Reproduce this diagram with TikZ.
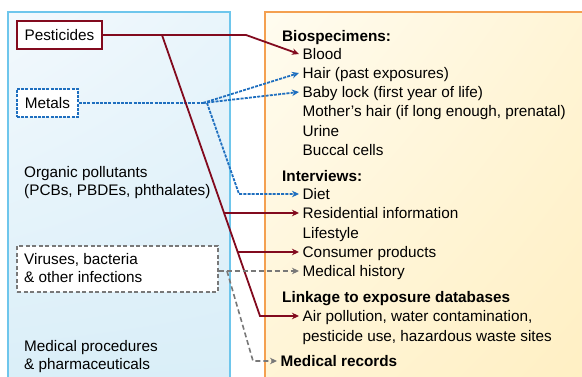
\documentclass[tikz,border=0pt]{standalone}
\usepackage{fontspec}
\setmainfont{Liberation Sans}
\usetikzlibrary{arrows.meta,calc,shadings}
\definecolor{dred}{HTML}{820A1E}
\definecolor{mblue}{HTML}{1F6FBF}
\definecolor{mgray}{HTML}{787878}
\definecolor{lbborder}{HTML}{6EC6EC}
\definecolor{lbfillA}{HTML}{F3F9FD}
\definecolor{lbfillB}{HTML}{D9EEF8}
\definecolor{orborder}{HTML}{F4A050}
\definecolor{orfillA}{HTML}{FFFCF0}
\definecolor{orfillB}{HTML}{FFEFC2}
\newcommand{\fs}{\fontsize{15.3}{18.5}\selectfont}
\tikzset{
  txt/.style={anchor=west, inner ysep=1pt, inner xsep=1pt, font=\fs, text height=11pt, text depth=0pt},
  item/.style={txt, inner xsep=3.5pt},
  head/.style={txt, inner xsep=3.5pt, font=\fs\bfseries},
  redline/.style={draw=dred, line width=1.8pt},
  blueline/.style={draw=mblue, line width=1.8pt, dash pattern=on 3pt off 1.2pt},
  grayline/.style={draw=mgray, line width=1.6pt, dash pattern=on 5pt off 3pt},
  tip/.style={-{Stealth[length=7pt,width=6.5pt]}},
  srcbox/.style={fill=white, inner sep=0pt, font=\fs}
}
\begin{document}
\begin{tikzpicture}[x=1pt,y=-1pt]
\useasboundingbox (0,0) rectangle (582,377);
\clip (0,0) rectangle (582,377);
% panels
\shade[upper left=lbfillA, upper right=lbfillA!60!lbfillB, lower left=lbfillB, lower right=lbfillB] (8,12) rectangle (230,395);
\draw[lbborder, line width=1.5pt] (8,12) rectangle (230,395);
\shade[upper left=orfillA, upper right=orfillB!60!orfillA, lower left=orfillA!40!orfillB, lower right=orfillB] (265,12) rectangle (600,395);
\draw[orborder, line width=1.5pt] (265,12) rectangle (600,395);

% source boxes
\node[srcbox, draw=dred, line width=2.4pt, minimum width=85pt, minimum height=28pt] (pest) at (59.5,35) {Pesticides};
\node[srcbox, draw=mblue, line width=1.8pt, dash pattern=on 3pt off 1.2pt, minimum width=61pt, minimum height=28pt] (metal) at (47.5,103) {Metals};
\node[txt] (org1) at (23,172) {Organic pollutants};
\node[txt] (org2) at (23,190) {(PCBs, PBDEs, phthalates)};
\node[srcbox, draw=mgray, line width=1.4pt, dash pattern=on 4pt off 2.5pt, minimum width=201pt, minimum height=46pt] (vir) at (117.5,269) {};
\node[txt] (vir1) at (23,259) {Viruses, bacteria};
\node[txt] (vir2) at (23,277) {\& other infections};
\node[txt] (med1) at (23,346) {Medical procedures};
\node[txt] (med2) at (23,364) {\& pharmaceuticals};

% targets
\node[head] (bio) at (278.5,36) {Biospecimens:};
\node[item] (blood) at (299,54) {Blood};
\node[item] (hair) at (299,73) {Hair (past exposures)};
\node[item] (baby) at (299,92) {Baby lock (first year of life)};
\node[item] (mother) at (299,111) {Mother’s hair (if long enough, prenatal)};
\node[item] (urine) at (299,131) {Urine};
\node[item] (buccal) at (299,150) {Buccal cells};
\node[head] (inter) at (278.5,176) {Interviews:};
\node[item] (diet) at (299,194) {Diet};
\node[item] (resid) at (299,213) {Residential information};
\node[item] (life) at (299,233) {Lifestyle};
\node[item] (cons) at (299,252) {Consumer products};
\node[item] (medhist) at (299,271) {Medical history};
\node[head] (link) at (278.5,297) {Linkage to exposure databases};
\node[item] (air) at (299,316) {Air pollution, water contamination,};
\node[item] (air2) at (299,336) {pesticide use, hazardous waste sites};
\node[head] (medrec) at (277,361) {Medical records};

% coordinates
\coordinate (pc1) at (246,35);
\coordinate (pb1) at (162,35);
\coordinate (pb2) at (260,316);
\coordinate (r1) at ($(pb1)!0.6335!(pb2)$);
\coordinate (c1) at ($(pb1)!0.7722!(pb2)$);
\coordinate (mj) at (203,103);
\coordinate (mk) at (207,103);
\coordinate (md) at (239,194);
\coordinate (vj) at (227,271);
\coordinate (vd) at (253,361);

% blue connectors
\draw[blueline] (metal.east) -- (mj);
\draw[blueline, tip] (mj) -- (hair.west);
\draw[blueline, tip] (mj) -- (baby.west);
\draw[blueline, tip] (mk) -- (md) -- (diet.west);
% red connectors
\draw[redline, tip] (pest.east) -- (pc1) -- (blood.west);
\draw[redline, tip] (pb1) -- (pb2) -- (air.west);
\draw[redline, tip] (r1) -- (resid.west);
\draw[redline, tip] (c1) -- (cons.west);
% gray connectors
\draw[grayline, tip] (vir.east |- medhist.west) -- (medhist.west);
\draw[grayline, tip] (vj) -- (vd) -- (medrec.west);
\end{tikzpicture}
\end{document}
